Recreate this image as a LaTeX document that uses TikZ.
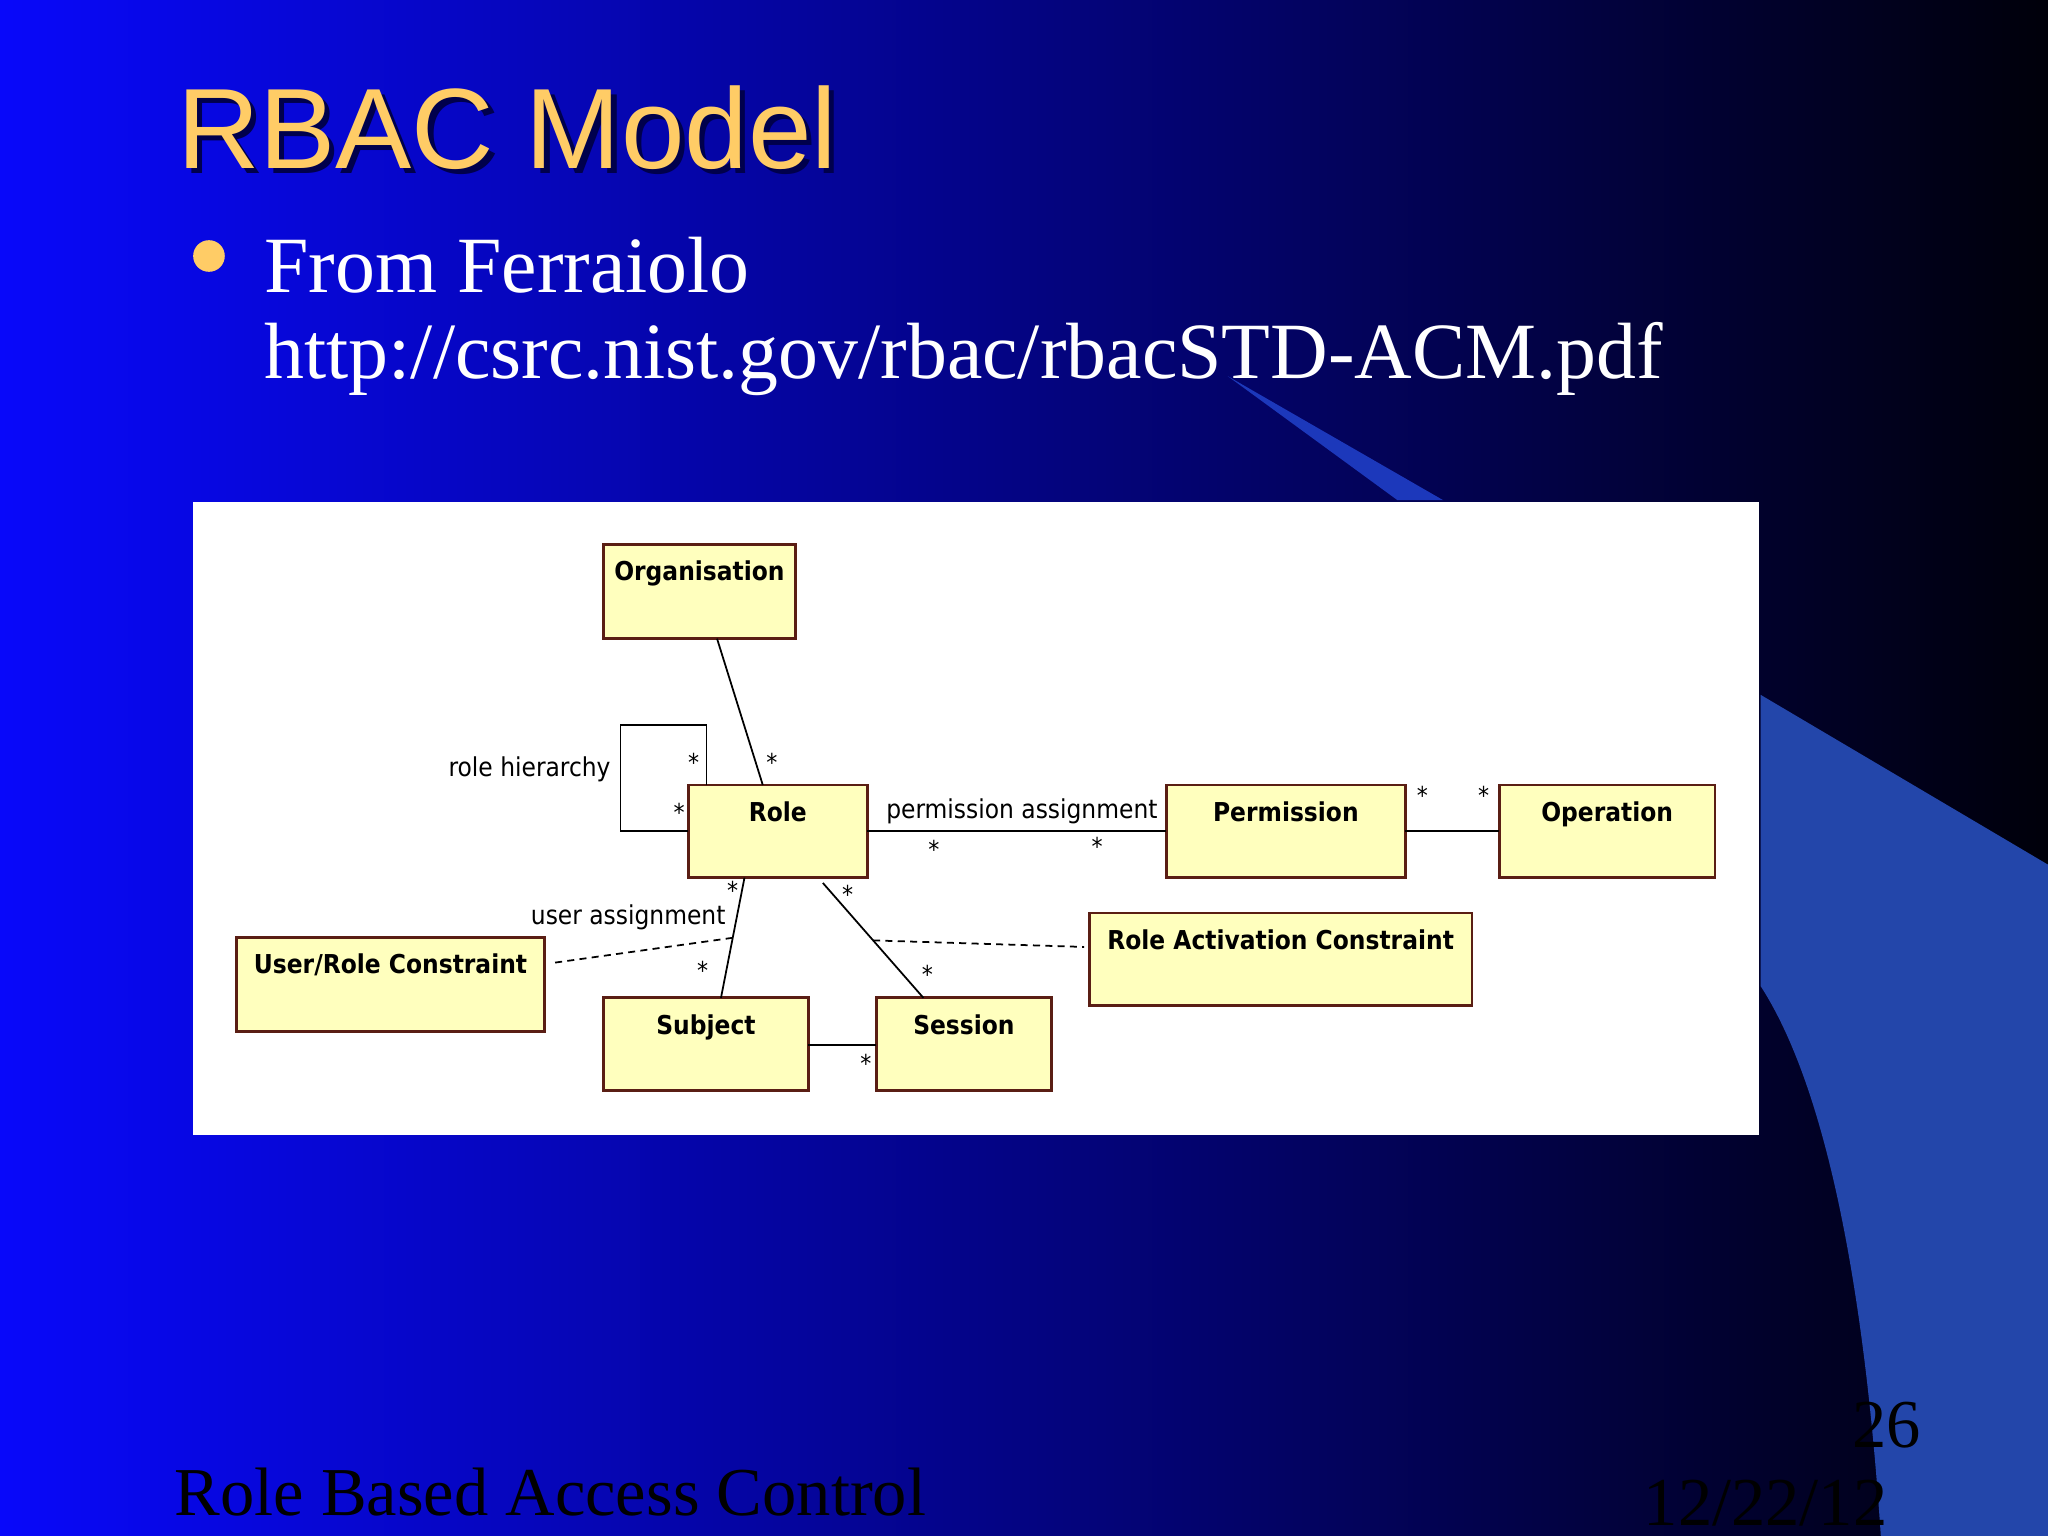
\documentclass[tikz,border=0pt]{standalone}
\usepackage{fontspec}
\setmainfont{Liberation Serif}
\setsansfont{Liberation Sans}
\newfontfamily\diag{DejaVu Sans Condensed}
\usetikzlibrary{calc}
\definecolor{bgL}{RGB}{8,8,250}
\definecolor{bgM}{RGB}{4,4,175}
\definecolor{bgR}{RGB}{0,0,10}
\definecolor{swoosh}{RGB}{35,70,170}
\definecolor{gold}{RGB}{255,204,102}
\definecolor{boxfill}{RGB}{255,255,190}
\definecolor{boxline}{RGB}{90,30,20}
\newcommand{\cbox}[6]{%
  \node[cls,minimum width={(#4-#2)*0.013061cm},minimum height={(#5-#3)*0.013061cm}] (#1) at (#2,#3) {};
  \node[cname] at ($(#1.north)+(0,12)$) {#6};}
\begin{document}
\begin{tikzpicture}[x=0.013061cm,y=-0.013061cm,
  cls/.style={draw=boxline,fill=boxfill,line width=0.8pt,anchor=north west,inner sep=0pt,outer sep=0pt},
  cname/.style={font=\diag\bfseries\fontsize{7.4}{8}\selectfont,anchor=north,inner sep=0pt},
  star/.style={font=\diag\fontsize{7}{7}\selectfont,inner sep=0pt},
  lab/.style={font=\diag\fontsize{7.4}{8}\selectfont,inner sep=0pt},
  assoc/.style={draw=black,line width=0.5pt},
  dep/.style={draw=black,line width=0.5pt,dash pattern=on 2pt off 1.5pt}]
\useasboundingbox (0,0) rectangle (1568,1176);
\shade[left color=bgL,middle color=bgM,right color=bgR] (0,0) rectangle (1568,1176);
\fill[swoosh] (1348,532) -- (1568,662) -- (1568,1176) -- (1440,1176) .. controls (1425,950) and (1390,820) .. (1348,755) -- cycle;
\fill[swoosh!80!blue] (940,288) -- (1105,383) -- (1070,383) -- cycle;
% title
\node[anchor=base west,font=\sffamily\fontsize{32.5}{34}\selectfont,text=black!70!blue,inner sep=0pt] at (139,133) {RBAC Model};
\node[anchor=base west,font=\sffamily\fontsize{32.5}{34}\selectfont,text=gold,inner sep=0pt] (title) at (135,129) {RBAC Model};
\node[circle,fill=gold,minimum size=9pt,inner sep=0pt] (bullet) at (160,196) {};
\node[anchor=base west,font=\fontsize{22.7}{23}\selectfont,text=white,inner sep=0pt] (l1) at (202,224) {From Ferraiolo};
\node[anchor=base west,font=\fontsize{22.7}{23}\selectfont,text=white,inner sep=0pt] (l2) at (202,290) {http://csrc.nist.gov/rbac/rbacSTD-ACM.pdf};
% footer
\node[anchor=base west,font=\fontsize{19.5}{20}\selectfont,text=black,inner sep=0pt] (foot) at (133,1160) {Role Based Access Control};
\node[anchor=base east,font=\fontsize{19.5}{20}\selectfont,text=black,inner sep=0pt] (num) at (1471,1108) {26};
\node[anchor=base west,font=\fontsize{19.5}{20}\selectfont,text=black,inner sep=0pt] (date) at (1258,1168) {12/22/12};
% panel
\fill[white] (148,384) rectangle (1347,869);
% boxes
\cbox{org}{462}{417}{609}{489}{Organisation}
\cbox{role}{527}{601}{664}{672}{Role}
\cbox{perm}{893}{601}{1076}{672}{Permission}
\cbox{oper}{1148}{601}{1313}{672}{Operation}
\cbox{rac}{834}{699}{1127}{770}{Role Activation Constraint}
\cbox{urc}{181}{718}{417}{790}{User/Role Constraint}
\cbox{subj}{462}{764}{619}{835}{Subject}
\cbox{sess}{671}{764}{805}{835}{Session}
% connectors
\coordinate (oa) at (549,489); \coordinate (ra) at (584,601);
\draw[assoc] (oa) -- (ra);
\coordinate (h1) at (475,636); \coordinate (h2) at (475,555); \coordinate (h3) at (541,555); \coordinate (h4) at (541,601);
\draw[assoc] (role.west |- h1) -- (h1) -- (h2) -- (h3) -- (h4);
\draw[assoc] (role.east |- h1) -- (perm.west |- h1);
\draw[assoc] (perm.east |- h1) -- (oper.west |- h1);
\coordinate (rs1) at (570,672); \coordinate (rs2) at (552,764);
\draw[assoc] (rs1) -- (rs2);
\coordinate (re1) at (630,676); \coordinate (re2) at (707,764);
\draw[assoc] (re1) -- (re2);
\coordinate (ss) at (619,800);
\draw[assoc] (subj.east |- ss) -- (sess.west |- ss);
\coordinate (d1) at (425,737); \coordinate (d2) at ($(rs1)!0.5!(rs2)$);
\draw[dep] (d1) -- (d2);
\coordinate (d3) at ($(re1)!0.5!(re2)$); \coordinate (d4) at (830,725);
\draw[dep] (d3) -- (d4);
% labels
\node[lab,anchor=east] (lh) at (468,589) {role hierarchy};
\node[lab,anchor=west] (lp) at (678,621) {permission assignment};
\node[lab,anchor=east] (lu) at (556,702) {user assignment};
\foreach \p [count=\i] in {(531,584),(591,584),(520,622),(715,650),(840,648),(1089,609),(1136,609),(561,682),(649,685),(538,743),(710,746),(663,814)}
  \node[star] (s\i) at \p {*};
\end{tikzpicture}
\end{document}
